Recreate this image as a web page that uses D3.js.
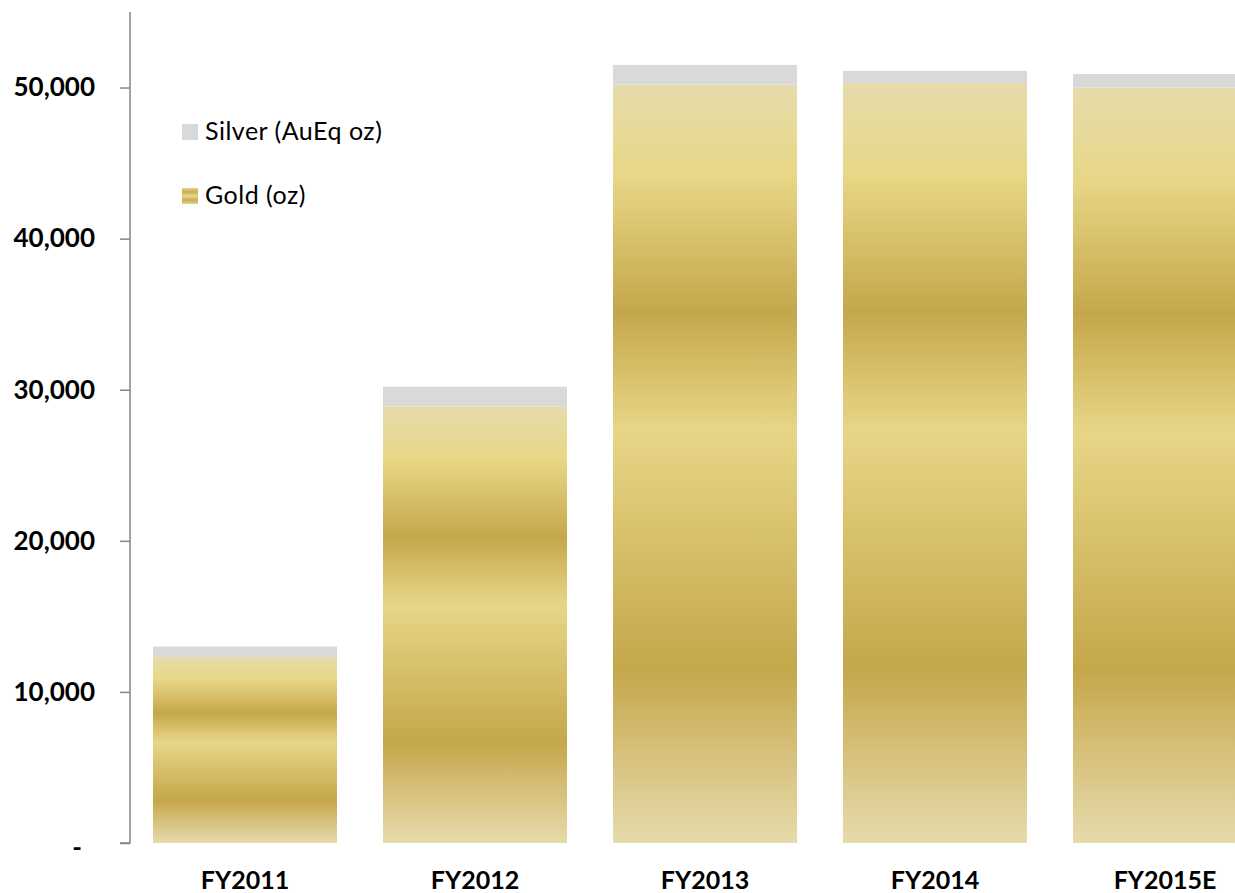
<!DOCTYPE html>
<html>
<head>
<meta charset="utf-8">
<script src="https://cdn.jsdelivr.net/npm/d3@7"></script>
<style>
  html, body { margin: 0; padding: 0; background: #fff; }
  svg { display: block; }
  text { font-family: Lato, "Open Sans", sans-serif; fill: #000; }
</style>
</head>
<body>
<svg id="chart" width="1235" height="893"></svg>
<script>
// ---- data ----
const categories = ["FY2011", "FY2012", "FY2013", "FY2014", "FY2015E"];
const goldOz = [12300, 28900, 50200, 50300, 50000];
const silverAuEqOz = [700, 1300, 1300, 800, 900];
const yTicks = [0, 10000, 20000, 30000, 40000, 50000];
const seriesNames = ["Silver (AuEq oz)", "Gold (oz)"];

const svg = d3.select("#chart");

const x = d3.scaleBand().domain(categories).range([130, 1280]).paddingInner(0.2).paddingOuter(0.1);
const y = d3.scaleLinear().domain([0, 55000]).range([843, 12]);

// gold gradient
const defs = svg.append("defs");
const g1 = defs.append("linearGradient").attr("id", "gold")
  .attr("x1", 0).attr("y1", 0).attr("x2", 0).attr("y2", 1);
[[0, "#E6DCAB"], [0.12, "#E8D787"], [0.30, "#C5A74B"], [0.455, "#E7D687"],
 [0.77, "#C5A74B"], [0.88, "#D6C07A"], [1, "#E6DBAC"]].forEach(([o, c]) =>
  g1.append("stop").attr("offset", o).attr("stop-color", c));

const g2 = defs.append("linearGradient").attr("id", "goldLegend")
  .attr("x1", 0).attr("y1", 0).attr("x2", 0).attr("y2", 1);
[[0, "#E4D590"], [0.25, "#C9AC50"], [0.5, "#E8D890"], [0.75, "#C9AC50"], [1, "#E4D590"]].forEach(([o, c]) =>
  g2.append("stop").attr("offset", o).attr("stop-color", c));

// bars
const data = categories.map((c, i) => ({ c, gold: goldOz[i], silver: silverAuEqOz[i] }));
const bars = svg.append("g");
bars.selectAll("rect.gold").data(data).enter().append("rect")
  .attr("class", "gold")
  .attr("x", d => x(d.c)).attr("width", x.bandwidth())
  .attr("y", d => y(d.gold)).attr("height", d => y(0) - y(d.gold))
  .attr("fill", "url(#gold)");
bars.selectAll("rect.silver").data(data).enter().append("rect")
  .attr("class", "silver")
  .attr("x", d => x(d.c)).attr("width", x.bandwidth())
  .attr("y", d => y(d.gold + d.silver)).attr("height", d => y(d.gold) - y(d.gold + d.silver))
  .attr("fill", "#D9D9D9");

// y axis
const yAxis = d3.axisLeft(y).tickValues(yTicks).tickSize(10).tickPadding(25)
  .tickFormat(d => d === 0 ? "-" : d3.format(",")(d));
const ya = svg.append("g").attr("transform", "translate(130,0)").call(yAxis);
ya.select(".domain").attr("stroke", "#868686").attr("stroke-width", 1.5)
  .attr("d", `M-10,${y(0)}H0V${y(55000)}`);
ya.selectAll(".tick line").attr("stroke", "#868686").attr("stroke-width", 1.5);
ya.selectAll(".tick text").style("font-family", "Lato, sans-serif").style("font-size", "26px")
  .style("font-weight", "bold").attr("fill", "#000")
  .attr("dx", d => d === 0 ? -13 : 0).attr("dy", d => d === 0 ? "0.5em" : "0.32em");

// x labels
svg.append("g").selectAll("text").data(categories).enter().append("text")
  .attr("x", d => x(d) + x.bandwidth() / 2).attr("y", 889)
  .attr("text-anchor", "middle")
  .style("font-size", "25px").style("font-weight", "bold")
  .text(d => d);

// legend
const leg = svg.append("g");
const legFills = ["#D9D9D9", "url(#goldLegend)"];
const legY = [124, 188];
seriesNames.forEach((n, i) => {
  leg.append("rect").attr("x", 182).attr("y", legY[i]).attr("width", 16).attr("height", 16).attr("fill", legFills[i]);
  leg.append("text").attr("x", 205).attr("y", legY[i] + 16).style("font-size", "25px")
    .style("letter-spacing", "0.5px").text(n);
});
</script>
</body>
</html>
